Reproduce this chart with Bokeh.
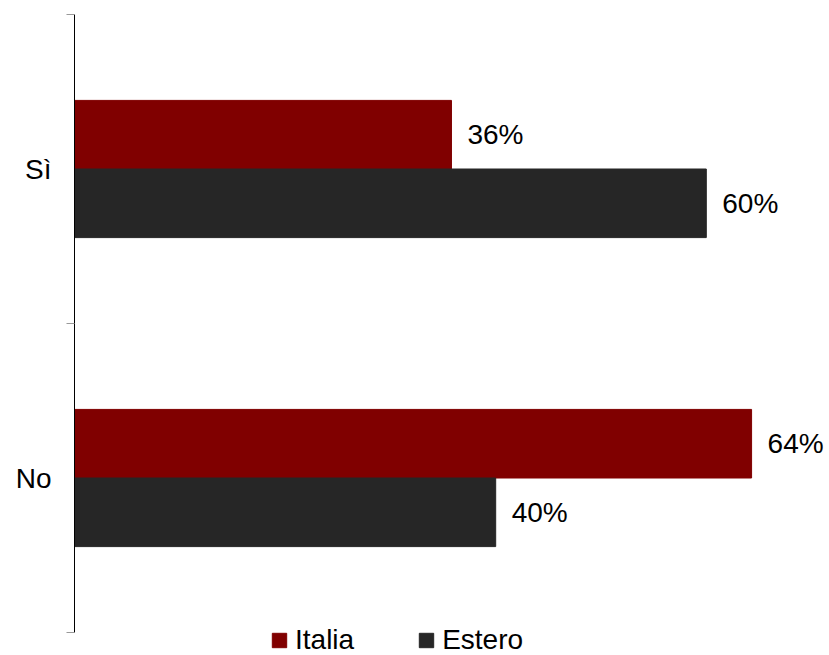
from bokeh.plotting import figure
from bokeh.models import (ColumnDataSource, Range1d, FixedTicker, Legend, LegendItem)
from bokeh.core.properties import value
from bokeh.embed import file_html
from bokeh.resources import INLINE

# ---- data ----
categories = ["No", "Sì"]          # bottom to top
italia = [64.3, 35.8]
estero = [40.0, 60.0]
series_names = ["Italia", "Estero"]
series_colors = ["#800000", "#262626"]

FONT = "Liberation Sans"

bar_h = 0.222
offs = [bar_h / 2, -bar_h / 2]  # Italia above, Estero below the category centre

# frame runs to the bottom of the page so the legend below the axis is not clipped;
# the axis line itself is bounded to the category span
p = figure(width=829, height=655, output_backend="svg", toolbar_location=None,
           x_range=Range1d(0, 71.7), y_range=Range1d(-0.0744, 2),
           min_border_left=74, min_border_right=0, min_border_top=14,
           min_border_bottom=0)

centres = [i + 0.5 for i in range(len(categories))]
renderers = []
for vals, name, col, off in zip([italia, estero], series_names, series_colors, offs):
    src = ColumnDataSource(dict(
        y=[c + off for c in centres],
        v=vals,
        lab=[f"{round(v)}%" for v in vals],
    ))
    r = p.hbar(y="y", right="v", left=0, height=bar_h, source=src,
               fill_color=col, line_color=col)
    renderers.append(r)
    p.text(x="v", y="y", text="lab", source=src, x_offset=16,
           text_baseline="middle", text_align="left",
           text_font=value(FONT), text_font_size="28px", text_color="black")

# axes
p.xaxis.visible = False
yax = p.yaxis[0]
yax.bounds = (0, len(categories))
yax.ticker = FixedTicker(ticks=centres, minor_ticks=list(range(len(categories) + 1)))
yax.major_label_overrides = {c: cat for c, cat in zip(centres, categories)}
yax.major_tick_line_color = None
yax.major_tick_out = 0
yax.major_tick_in = 0
yax.minor_tick_out = 8
yax.minor_tick_in = 0
yax.minor_tick_line_color = "#999999"
yax.axis_line_color = "black"
yax.axis_line_width = 1
yax.major_label_standoff = 15
yax.major_label_text_font = FONT
yax.major_label_text_font_size = "28px"
yax.major_label_text_color = "black"

p.xgrid.visible = False
p.ygrid.visible = False
p.outline_line_color = None

legend = Legend(items=[LegendItem(label=n, renderers=[r]) for n, r in zip(series_names, renderers)],
                orientation="horizontal", location=(196, -1),
                glyph_width=18, glyph_height=18, label_standoff=7, spacing=63,
                padding=0, margin=0, border_line_color=None,
                background_fill_alpha=0,
                label_text_font=FONT, label_text_font_size="28px",
                label_text_color="black")
p.add_layout(legend, "center")

open("out.html", "w").write(file_html(p, INLINE))
